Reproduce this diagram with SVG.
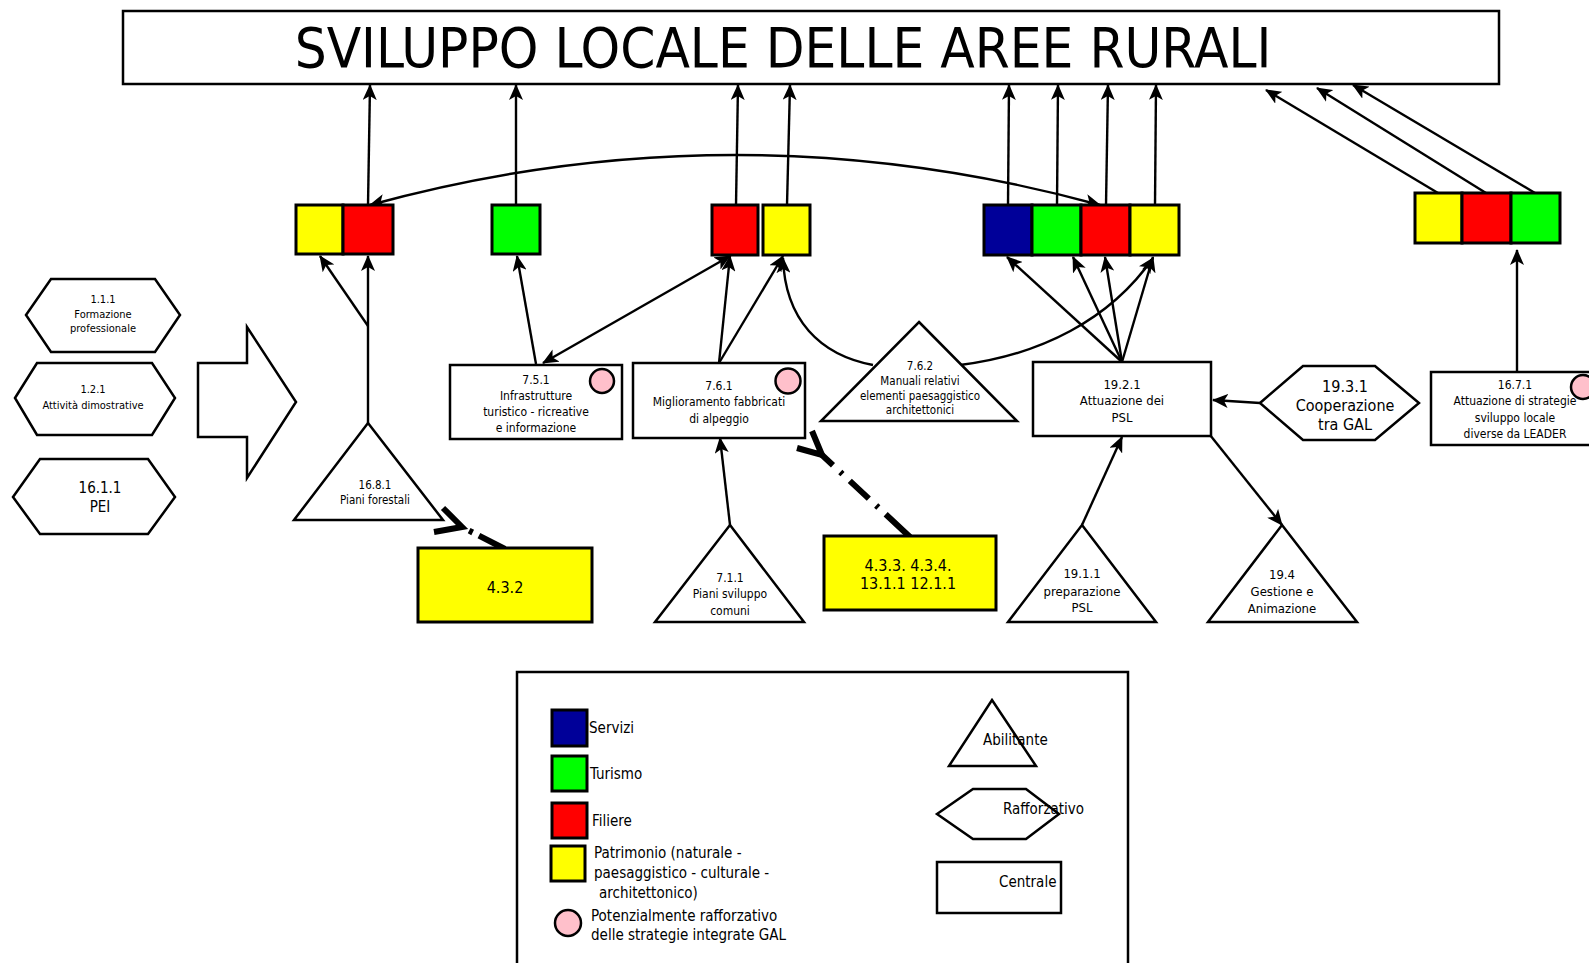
<svg xmlns="http://www.w3.org/2000/svg" width="1589" height="963" viewBox="0 0 1589 963">
<defs>
<style>
.t{font-family:"DejaVu Sans Condensed","Liberation Sans",sans-serif;fill:#000;text-anchor:middle;dominant-baseline:central}
.tl{font-family:"DejaVu Sans Condensed","Liberation Sans",sans-serif;fill:#000;text-anchor:start;dominant-baseline:central}
.sh{fill:#fff;stroke:#000;stroke-width:2.5;stroke-linejoin:miter}
.bx{stroke:#000;stroke-width:3}
.y{fill:#ffff00}.r{fill:#ff0000}.g{fill:#00ff00}.b{fill:#000099}
.pk{fill:#ffc0cb;stroke:#000;stroke-width:2.5}
.c{fill:none;stroke:#000;stroke-width:2.4}
.dd{fill:none;stroke:#000;stroke-width:6}
</style>
<marker id="ah" viewBox="0 0 16 14" refX="15" refY="7" markerWidth="16" markerHeight="14" markerUnits="userSpaceOnUse" orient="auto-start-reverse">
<path d="M0,0 L16,7 L0,14 L4,7 z" fill="#000"/>
</marker>
</defs>

<g id="title">
<rect class="sh" x="123" y="11" width="1376" height="73"/>
<text class="t" x="783" y="47" font-size="56">SVILUPPO LOCALE DELLE AREE RURALI</text>
</g>

<g id="connectors">
<line class="c" x1="368" y1="205" x2="370" y2="85" marker-end="url(#ah)"/>
<line class="c" x1="516" y1="205" x2="516" y2="85" marker-end="url(#ah)"/>
<line class="c" x1="736" y1="205" x2="738" y2="85" marker-end="url(#ah)"/>
<line class="c" x1="787" y1="205" x2="790" y2="85" marker-end="url(#ah)"/>
<line class="c" x1="1008" y1="205" x2="1009" y2="85" marker-end="url(#ah)"/>
<line class="c" x1="1057" y1="205" x2="1058" y2="85" marker-end="url(#ah)"/>
<line class="c" x1="1106" y1="205" x2="1108" y2="85" marker-end="url(#ah)"/>
<line class="c" x1="1155" y1="205" x2="1156" y2="85" marker-end="url(#ah)"/>
<line class="c" x1="1438" y1="193" x2="1266" y2="90" marker-end="url(#ah)"/>
<line class="c" x1="1486" y1="193" x2="1317" y2="88" marker-end="url(#ah)"/>
<line class="c" x1="1535" y1="193" x2="1353" y2="85" marker-end="url(#ah)"/>
<path class="c" d="M370,205 Q735,105 1100,205" marker-start="url(#ah)" marker-end="url(#ah)"/>
<line class="c" x1="368" y1="423" x2="368" y2="256" marker-end="url(#ah)"/>
<line class="c" x1="368" y1="326" x2="320" y2="256" marker-end="url(#ah)"/>
<line class="c" x1="536" y1="364" x2="517" y2="256" marker-end="url(#ah)"/>
<line class="c" x1="543" y1="363" x2="730" y2="256" marker-start="url(#ah)" marker-end="url(#ah)"/>
<line class="c" x1="719" y1="363" x2="730" y2="256" marker-end="url(#ah)"/>
<line class="c" x1="719" y1="363" x2="783" y2="256" marker-end="url(#ah)"/>
<path class="c" d="M873,365 C820,355 785,320 783,258" marker-end="url(#ah)"/>
<path class="c" d="M960,365 C1040,355 1110,320 1153,258" marker-end="url(#ah)"/>
<line class="c" x1="1122" y1="362" x2="1007" y2="257" marker-end="url(#ah)"/>
<line class="c" x1="1122" y1="362" x2="1073" y2="257" marker-end="url(#ah)"/>
<line class="c" x1="1122" y1="362" x2="1105" y2="257" marker-end="url(#ah)"/>
<line class="c" x1="1122" y1="362" x2="1153" y2="257" marker-end="url(#ah)"/>
<line class="c" x1="1260" y1="403" x2="1213" y2="400" marker-end="url(#ah)"/>
<line class="c" x1="1082" y1="525" x2="1122" y2="437" marker-end="url(#ah)"/>
<line class="c" x1="1210" y1="435" x2="1282" y2="525" marker-end="url(#ah)"/>
<line class="c" x1="730" y1="525" x2="720" y2="438" marker-end="url(#ah)"/>
<line class="c" x1="1517" y1="372" x2="1517" y2="250" marker-end="url(#ah)"/>
<path class="dd" d="M443,508 L462,527 L434,532"/>
<line class="dd" x1="462" y1="527" x2="505" y2="549" stroke-dasharray="0 8 4 7 30 0"/>
<path class="dd" d="M797,448 L822,455 L812,431"/>
<line class="dd" x1="822" y1="455" x2="910" y2="537" stroke-dasharray="15 10 3 10 26 10 3 10 40"/>
</g>

<g id="boxes-1681">
<rect class="bx y" x="296" y="205" width="47" height="49"/>
<rect class="bx r" x="343" y="205" width="50" height="49"/>
</g>
<g id="boxes-751">
<rect class="bx g" x="492" y="205" width="48" height="49"/>
</g>
<g id="boxes-761">
<rect class="bx r" x="712" y="205" width="46" height="50"/>
<rect class="bx y" x="763" y="205" width="47" height="50"/>
</g>
<g id="boxes-1921">
<rect class="bx b" x="984" y="205" width="48" height="50"/>
<rect class="bx g" x="1032" y="205" width="49" height="50"/>
<rect class="bx r" x="1081" y="205" width="49" height="50"/>
<rect class="bx y" x="1130" y="205" width="49" height="50"/>
</g>
<g id="boxes-1671">
<rect class="bx y" x="1415" y="193" width="47" height="50"/>
<rect class="bx r" x="1462" y="193" width="49" height="50"/>
<rect class="bx g" x="1511" y="193" width="49" height="50"/>
</g>

<g id="n111">
<polygon class="sh" points="26,315 51,279 155,279 180,315 155,352 51,352"/>
<text class="t" font-size="11"><tspan x="103" y="299">1.1.1</tspan><tspan x="103" y="314">Formazione</tspan><tspan x="103" y="328">professionale</tspan></text>
</g>
<g id="n121">
<polygon class="sh" points="15,398 37,363 152,363 175,398 152,435 37,435"/>
<text class="t" font-size="11"><tspan x="93" y="389">1.2.1</tspan><tspan x="93" y="405">Attività dimostrative</tspan></text>
</g>
<g id="n1611">
<polygon class="sh" points="13,497 40,459 148,459 175,497 148,534 40,534"/>
<text class="t" font-size="15"><tspan x="100" y="488">16.1.1</tspan><tspan x="100" y="507">PEI</tspan></text>
</g>
<g id="bigarrow">
<polygon class="sh" points="198,363 247,363 247,327 296,402 247,478 247,437 198,437"/>
</g>
<g id="n1681">
<polygon class="sh" points="368,423 443,520 294,520"/>
<text class="t" font-size="11.5"><tspan x="375" y="485">16.8.1</tspan><tspan x="375" y="500">Piani forestali</tspan></text>
</g>
<g id="n751">
<rect class="sh" x="450" y="365" width="172" height="74"/>
<circle class="pk" cx="602" cy="381" r="12"/>
<text class="t" font-size="12"><tspan x="536" y="380">7.5.1</tspan><tspan x="536" y="396">Infrastrutture</tspan><tspan x="536" y="412">turistico - ricreative</tspan><tspan x="536" y="428">e informazione</tspan></text>
</g>
<g id="n761">
<rect class="sh" x="633" y="363" width="172" height="75"/>
<circle class="pk" cx="788" cy="381" r="12.5"/>
<text class="t" font-size="12"><tspan x="719" y="386">7.6.1</tspan><tspan x="719" y="402">Miglioramento fabbricati</tspan><tspan x="719" y="419">di alpeggio</tspan></text>
</g>
<g id="n762">
<polygon class="sh" points="919,322 1017,421 821,421"/>
<text class="t" font-size="11.5"><tspan x="920" y="366">7.6.2</tspan><tspan x="920" y="381">Manuali relativi</tspan><tspan x="920" y="396">elementi paesaggistico</tspan><tspan x="920" y="410">architettonici</tspan></text>
</g>
<g id="n1921">
<rect class="sh" x="1033" y="362" width="178" height="74"/>
<text class="t" font-size="13"><tspan x="1122" y="384">19.2.1</tspan><tspan x="1122" y="400">Attuazione dei</tspan><tspan x="1122" y="417">PSL</tspan></text>
</g>
<g id="n1931">
<polygon class="sh" points="1260,403 1303,366 1375,366 1419,403 1375,440 1303,440"/>
<text class="t" font-size="16"><tspan x="1345" y="386">19.3.1</tspan><tspan x="1345" y="405">Cooperazione</tspan><tspan x="1345" y="424">tra GAL</tspan></text>
</g>
<g id="n1671">
<rect class="sh" x="1431" y="372" width="170" height="73"/>
<circle class="pk" cx="1583" cy="387" r="12"/>
<text class="t" font-size="12"><tspan x="1515" y="385">16.7.1</tspan><tspan x="1515" y="401">Attuazione di strategie</tspan><tspan x="1515" y="418">sviluppo locale</tspan><tspan x="1515" y="434">diverse da LEADER</tspan></text>
</g>
<g id="n432">
<rect class="bx y" x="418" y="548" width="174" height="74"/>
<text class="t" x="505" y="587" font-size="16">4.3.2</text>
</g>
<g id="n711">
<polygon class="sh" points="730,525 804,622 655,622"/>
<text class="t" font-size="12"><tspan x="730" y="578">7.1.1</tspan><tspan x="730" y="594">Piani sviluppo</tspan><tspan x="730" y="611">comuni</tspan></text>
</g>
<g id="n433">
<rect class="bx y" x="824" y="536" width="172" height="74"/>
<text class="t" font-size="16"><tspan x="908" y="565">4.3.3. 4.3.4.</tspan><tspan x="908" y="583">13.1.1 12.1.1</tspan></text>
</g>
<g id="n1911">
<polygon class="sh" points="1082,525 1156,622 1008,622"/>
<text class="t" font-size="13"><tspan x="1082" y="573">19.1.1</tspan><tspan x="1082" y="591">preparazione</tspan><tspan x="1082" y="607">PSL</tspan></text>
</g>
<g id="n194">
<polygon class="sh" points="1282,525 1357,622 1208,622"/>
<text class="t" font-size="13"><tspan x="1282" y="574">19.4</tspan><tspan x="1282" y="591">Gestione e</tspan><tspan x="1282" y="608">Animazione</tspan></text>
</g>

<g id="legend">
<rect class="sh" x="517" y="672" width="611" height="300"/>
<rect class="bx b" x="552" y="710" width="35" height="36"/>
<text class="tl" x="589" y="728" font-size="15">Servizi</text>
<rect class="bx g" x="552" y="756" width="35" height="35"/>
<text class="tl" x="590" y="774" font-size="15">Turismo</text>
<rect class="bx r" x="552" y="803" width="35" height="35"/>
<text class="tl" x="592" y="821" font-size="15">Filiere</text>
<rect class="bx y" x="551" y="846" width="34" height="35"/>
<text class="tl" font-size="15"><tspan x="594" y="853">Patrimonio (naturale -</tspan><tspan x="594" y="873">paesaggistico - culturale -</tspan><tspan x="599" y="893">architettonico)</tspan></text>
<circle class="pk" cx="568" cy="923" r="13"/>
<text class="tl" font-size="15"><tspan x="591" y="916">Potenzialmente rafforzativo</tspan><tspan x="591" y="935">delle strategie integrate GAL</tspan></text>
<polygon class="sh" points="992,700 1036,766 949,766"/>
<text class="tl" x="983" y="740" font-size="15">Abilitante</text>
<polygon class="sh" points="937,814 973,789 1026,789 1059,814 1026,839 973,839"/>
<text class="tl" x="1003" y="809" font-size="15">Rafforzativo</text>
<rect class="sh" x="937" y="862" width="124" height="51"/>
<text class="tl" x="999" y="882" font-size="15">Centrale</text>
</g>
</svg>
